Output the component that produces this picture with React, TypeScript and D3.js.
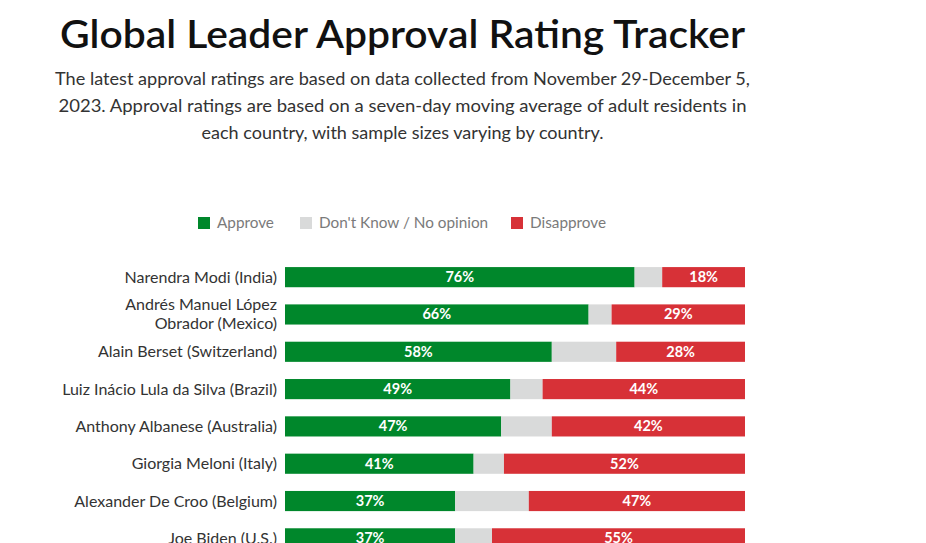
import React from "react";
import * as d3 from "d3";

const leaders = [
  ["Narendra Modi (India)"],
  ["Andrés Manuel López", "Obrador (Mexico)"],
  ["Alain Berset (Switzerland)"],
  ["Luiz Inácio Lula da Silva (Brazil)"],
  ["Anthony Albanese (Australia)"],
  ["Giorgia Meloni (Italy)"],
  ["Alexander De Croo (Belgium)"],
  ["Joe Biden (U.S.)"],
];
const approve = [76, 66, 58, 49, 47, 41, 37, 37];
const disapprove = [18, 29, 28, 44, 42, 52, 47, 55];
const dontKnow = [6, 5, 14, 7, 11, 6.6, 16, 8];

const legendLabels = ["Approve", "Don't Know / No opinion", "Disapprove"];
const colors = ["#00872b", "#d9dada", "#d73137"];

const title = "Global Leader Approval Rating Tracker";
const subtitle = [
  "The latest approval ratings are based on data collected from November 29-December 5,",
  "2023. Approval ratings are based on a seven-day moving average of adult residents in",
  "each country, with sample sizes varying by country.",
];
const subtitleWidths = [695, 688, 402];

const W = 926;
const H = 543;
const FONT = "Lato, 'Open Sans', sans-serif";

export default function App() {
  const x = d3.scaleLinear().domain([0, 100]).range([285, 745]);
  const y = d3
    .scaleBand<number>()
    .domain(d3.range(leaders.length))
    .range([258.5, 557])
    .paddingInner(0.46)
    .paddingOuter(0.23);

  const legendX = [198, 300, 511];

  return (
    <svg
      width={W}
      height={H}
      style={{ position: "absolute", left: 0, top: 0, background: "#fff" }}
      fontFamily={FONT}
    >
      <text
        x={402.5}
        y={48}
        textAnchor="middle"
        fontSize={39}
        fontWeight={600}
        fill="#111"
        textLength={685}
        lengthAdjust="spacingAndGlyphs"
      >
        {title}
      </text>
      {subtitle.map((s, i) => (
        <text
          key={i}
          x={402.5}
          y={85 + i * 27}
          textAnchor="middle"
          fontSize={17.5}
          fill="#333"
          textLength={subtitleWidths[i]}
          lengthAdjust="spacingAndGlyphs"
        >
          {s}
        </text>
      ))}
      {legendLabels.map((l, i) => (
        <g key={l}>
          <rect x={legendX[i]} y={217} width={12} height={12} fill={colors[i]} />
          <text x={legendX[i] + 19} y={228} fontSize={15.3} fill="#7a7a7a">
            {l}
          </text>
        </g>
      ))}
      {leaders.map((name, i) => {
        const y0 = y(i)!;
        const bh = y.bandwidth();
        const cy = y0 + bh / 2;
        const a = approve[i];
        const dk = dontKnow[i];
        const dis = disapprove[i];
        return (
          <g key={i}>
            {name.length === 1 ? (
              <text x={277} y={cy + 5.5} textAnchor="end" fontSize={16} fill="#333">
                {name[0]}
              </text>
            ) : (
              name.map((n, j) => (
                <text key={j} x={277} y={cy - 4 + j * 19} textAnchor="end" fontSize={16} fill="#333">
                  {n}
                </text>
              ))
            )}
            <rect x={x(0)} y={y0} width={x(a) - x(0)} height={bh} fill={colors[0]} />
            <rect x={x(a)} y={y0} width={x(a + dk) - x(a)} height={bh} fill={colors[1]} />
            <rect x={x(a + dk)} y={y0} width={x(100) - x(a + dk)} height={bh} fill={colors[2]} />
            <text x={(x(0) + x(a)) / 2} y={cy + 5} textAnchor="middle" fontSize={14.5} fontWeight={700} fill="#fff">
              {a}%
            </text>
            <text x={(x(a + dk) + x(100)) / 2} y={cy + 5} textAnchor="middle" fontSize={14.5} fontWeight={700} fill="#fff">
              {dis}%
            </text>
          </g>
        );
      })}
    </svg>
  );
}
